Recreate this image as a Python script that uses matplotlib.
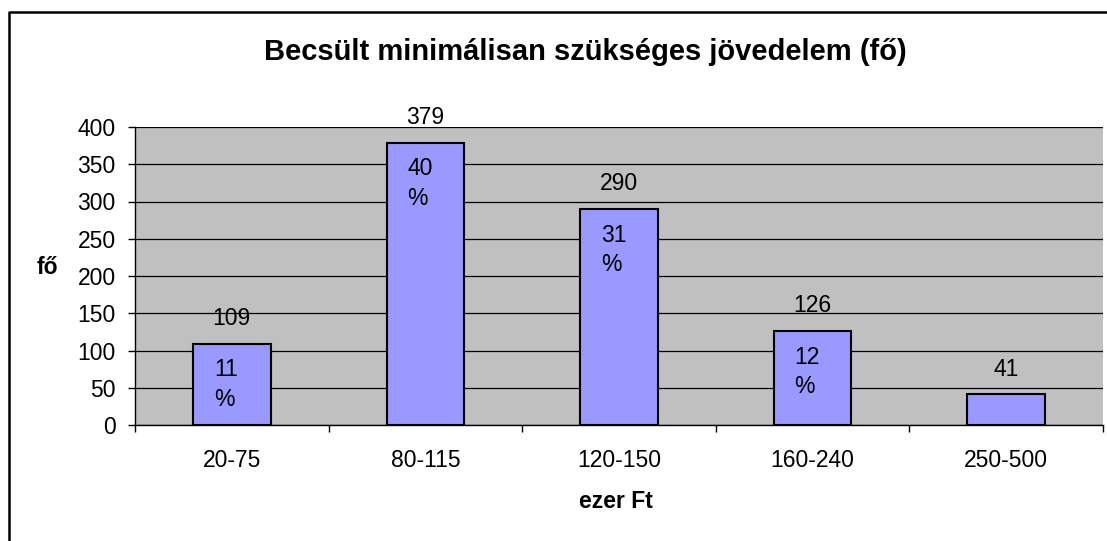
#!/usr/bin/env python3
"""Becsült minimálisan szükséges jövedelem - bar chart."""

import matplotlib

matplotlib.use("Agg")
import matplotlib.pyplot as plt
from matplotlib.lines import Line2D

categories = ["20-75", "80-115", "120-150", "160-240", "250-500"]
counts = [109, 379, 290, 126, 41]
percents = ["11\n%", "40\n%", "31\n%", "12\n%", ""]
yticks = [0, 50, 100, 150, 200, 250, 300, 350, 400]

W, H = 1107, 541
FS = 16.5
plt.rcParams["font.family"] = ["Liberation Sans", "DejaVu Sans"]

fig = plt.figure(figsize=(W / 100, H / 100), dpi=100)
ax = fig.add_axes([135 / W, 1 - 425 / H, (1103 - 135) / W, (425 - 127) / H])

# chart frame: only the left and top edges fall inside the picture
fig.lines.append(Line2D([9 / W, 9 / W, 1.0], [0.0, 1 - 12 / H, 1 - 12 / H],
                        transform=fig.transFigure, color="black", linewidth=1.8))

ax.set_facecolor("#C0C0C0")
x = list(range(len(categories)))
ax.bar(x, counts, width=0.4, color="#9999FF", edgecolor="black", linewidth=1.5, zorder=3)

ax.set_xlim(-0.5, len(categories) - 0.5)
ax.set_ylim(0, 400)
ax.set_yticks(yticks)
ax.yaxis.grid(True, color="black", linewidth=0.9, zorder=0)
ax.set_axisbelow(True)
ax.tick_params(axis="y", direction="out", length=5, width=1, labelsize=FS, pad=9)

ax.set_xticks(x)
ax.set_xticklabels(categories)
ax.set_xticks([i - 0.5 for i in range(len(categories) + 1)], minor=True)
ax.tick_params(axis="x", which="major", length=0, labelsize=FS, pad=17)
ax.tick_params(axis="x", which="minor", direction="out", length=5, width=1)

for side in ["top", "right"]:
    ax.spines[side].set_visible(False)
ax.spines["left"].set_linewidth(1)
ax.spines["bottom"].set_linewidth(1)

for xi, c, p in zip(x, counts, percents):
    ax.annotate(str(c), (xi, c), xytext=(0, 13.5), textcoords="offset points",
                ha="center", va="baseline", fontsize=FS)
    if p:
        ax.annotate(p, (xi - 0.093, c), xytext=(0, -10.5), textcoords="offset points",
                    ha="left", va="top", fontsize=FS, multialignment="left",
                    linespacing=1.35)

fig.text(585 / W, 1 - 52 / H, "Becsült minimálisan szükséges jövedelem (fő)",
         ha="center", va="center", fontsize=21, fontweight="bold")
fig.text(47 / W, 1 - 268 / H, "fő", ha="center", va="center", fontsize=FS,
         fontweight="bold")
fig.text(616 / W, 1 - 501 / H, "ezer Ft", ha="center", va="center", fontsize=FS,
         fontweight="bold")

fig.savefig("out.png", dpi=100)
